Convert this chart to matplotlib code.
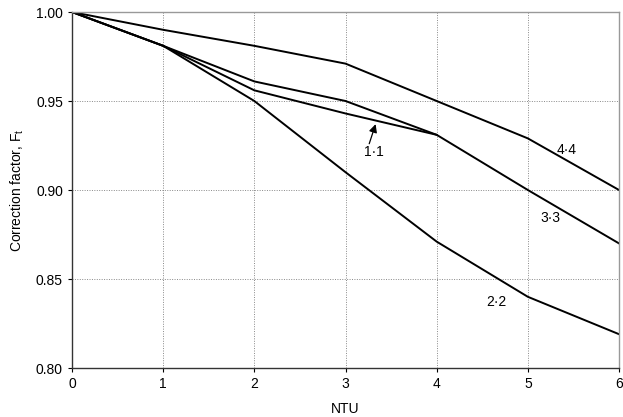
import matplotlib
matplotlib.use("Agg")
import matplotlib.pyplot as plt

plt.rcParams['font.family'] = ['Liberation Sans', 'DejaVu Sans']
plt.rcParams['mathtext.fontset'] = 'custom'
plt.rcParams['mathtext.rm'] = 'Liberation Sans'
plt.rcParams['mathtext.it'] = 'Liberation Sans'

ntu_44 = [0, 1, 2, 3, 4, 5, 6]
f_44 = [1.0, 0.990, 0.981, 0.971, 0.950, 0.929, 0.900]
ntu_33 = [0, 1, 2, 3, 4, 5, 6]
f_33 = [1.0, 0.981, 0.961, 0.950, 0.931, 0.900, 0.870]
ntu_11 = [0, 1, 2, 3, 4]
f_11 = [1.0, 0.981, 0.956, 0.943, 0.931]
ntu_22 = [0, 1, 2, 3, 4, 5, 6]
f_22 = [1.0, 0.981, 0.950, 0.910, 0.871, 0.840, 0.819]

labels = ["4·4", "3·3", "1·1", "2·2"]
label_pos = [(5.43, 0.9225), (5.25, 0.884), (3.31, 0.9215), (4.65, 0.837)]

fig = plt.figure(figsize=(6.23, 4.17), dpi=100)
ax = fig.add_axes([0.1156, 0.1175, 0.9936 - 0.1156, 0.9712 - 0.1175])

for xs, ys in [(ntu_44, f_44), (ntu_33, f_33), (ntu_11, f_11), (ntu_22, f_22)]:
    ax.plot(xs, ys, color='black', lw=1.4, solid_joinstyle='miter')

ax.set_xlim(0, 6)
ax.set_ylim(0.80, 1.00)
ax.set_xticks(range(0, 7))
ax.set_yticks([0.80, 0.85, 0.90, 0.95, 1.00])
ax.set_yticklabels(["0.80", "0.85", "0.90", "0.95", "1.00"])
ax.grid(True, color='#888888', linestyle=(0, (1, 1.5)), lw=0.7)
ax.tick_params(direction='out', length=3, width=0.8, labelsize=10, colors='black')

for s in ['top', 'right']:
    ax.spines[s].set_color('#999999')
    ax.spines[s].set_linewidth(1.0)
for s in ['left', 'bottom']:
    ax.spines[s].set_color('#333333')
    ax.spines[s].set_linewidth(1.0)

for lab, (lx, ly) in zip(labels, label_pos):
    ax.text(lx, ly, lab, fontsize=10, ha='center', va='center')

ax.annotate("", xy=(3.33, 0.937), xytext=(3.26, 0.926),
            arrowprops=dict(arrowstyle='-|>', color='black', lw=0.9,
                            mutation_scale=12, shrinkA=0, shrinkB=0))

ax.set_xlabel("NTU", fontsize=10, labelpad=8)
ax.set_ylabel("Correction factor, F$_{t}$", fontsize=10, labelpad=7)

fig.savefig("out.png", dpi=100)
